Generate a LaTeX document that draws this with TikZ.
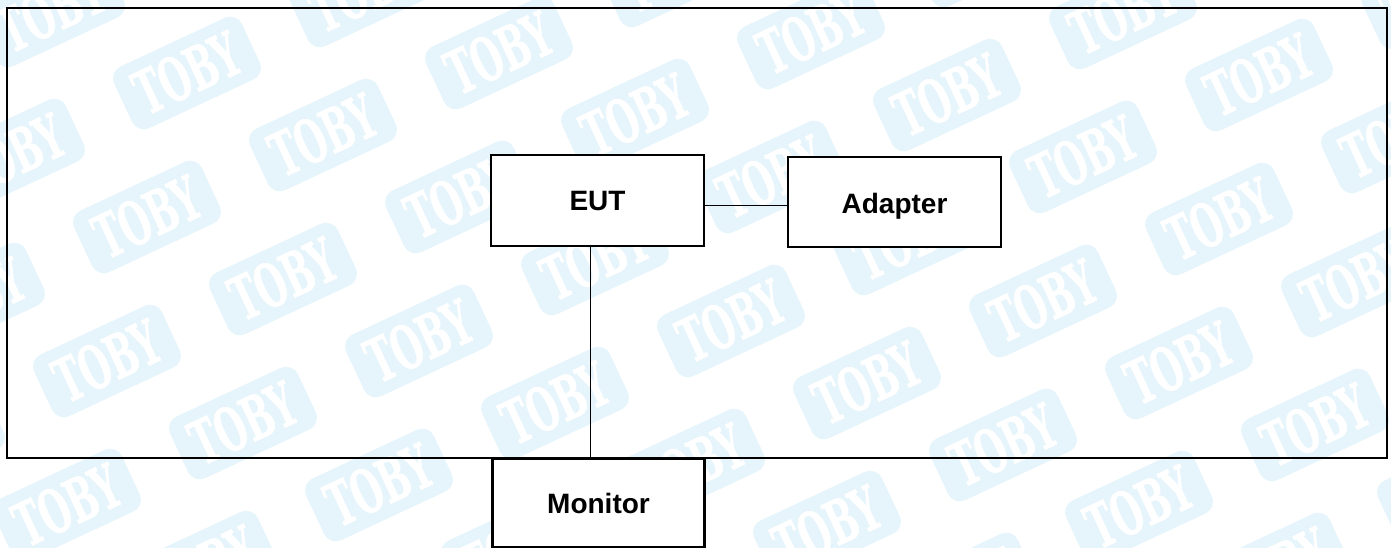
\documentclass[tikz,border=0pt]{standalone}
\usepackage{fontspec}
\usepackage{graphicx}
\setmainfont{Liberation Sans}
\newfontfamily\stampfont[BoldFeatures={FakeBold=1.5}]{DejaVu Serif}
\definecolor{wmblue}{HTML}{E6F4FB}
\tikzset{
  stamp/.style={fill=wmblue,text=white,rounded corners=13pt,rotate=25,minimum width=141pt,minimum height=68pt,inner sep=0pt,font=\stampfont\bfseries\fontsize{60}{60}\selectfont},
  unit/.style={draw=black,line width=2.2pt,fill=white,inner sep=0pt,outer sep=0pt,text height=20pt,text depth=0pt,font=\bfseries\fontsize{28}{30}\selectfont},
  frame box/.style={draw=black,line width=2.4pt,inner sep=0pt,outer sep=0pt},
  link/.style={draw=black,line width=1.1pt}
}
\begin{document}
\begin{tikzpicture}[x=1pt,y=-1pt]
\useasboundingbox (0,0) rectangle (1391,548);
\clip (0,0) rectangle (1391,548);
\foreach \i in {-3,...,12}{
  \foreach \j in {-4,...,4}{
    \pgfmathsetmacro{\px}{187+136*\i-40*\j}
    \pgfmathsetmacro{\py}{73+62*\i+144*\j}
    \node[stamp] (wm\i x\j) at (\px,\py) {\scalebox{.58}[1]{TOBY}};
  }
}
\node[frame box,minimum width=1380pt,minimum height=450pt] (frame) at (697,233) {};
\node[unit,minimum width=213pt,minimum height=91pt] (eut) at (597.5,200.5) {EUT};
\node[unit,minimum width=213pt,minimum height=90pt,text height=22pt] (adapter) at (894.5,202) {Adapter};
\node[unit,minimum width=212pt,minimum height=89pt] (monitor) at (598.5,503) {Monitor};
\coordinate (hlevel) at (700,205.5);
\coordinate (vlevel) at (590.5,300);
\draw[link] (eut.east |- hlevel) -- (adapter.west |- hlevel);
\draw[link] (eut.south -| vlevel) -- (monitor.north -| vlevel);
\end{tikzpicture}
\end{document}
